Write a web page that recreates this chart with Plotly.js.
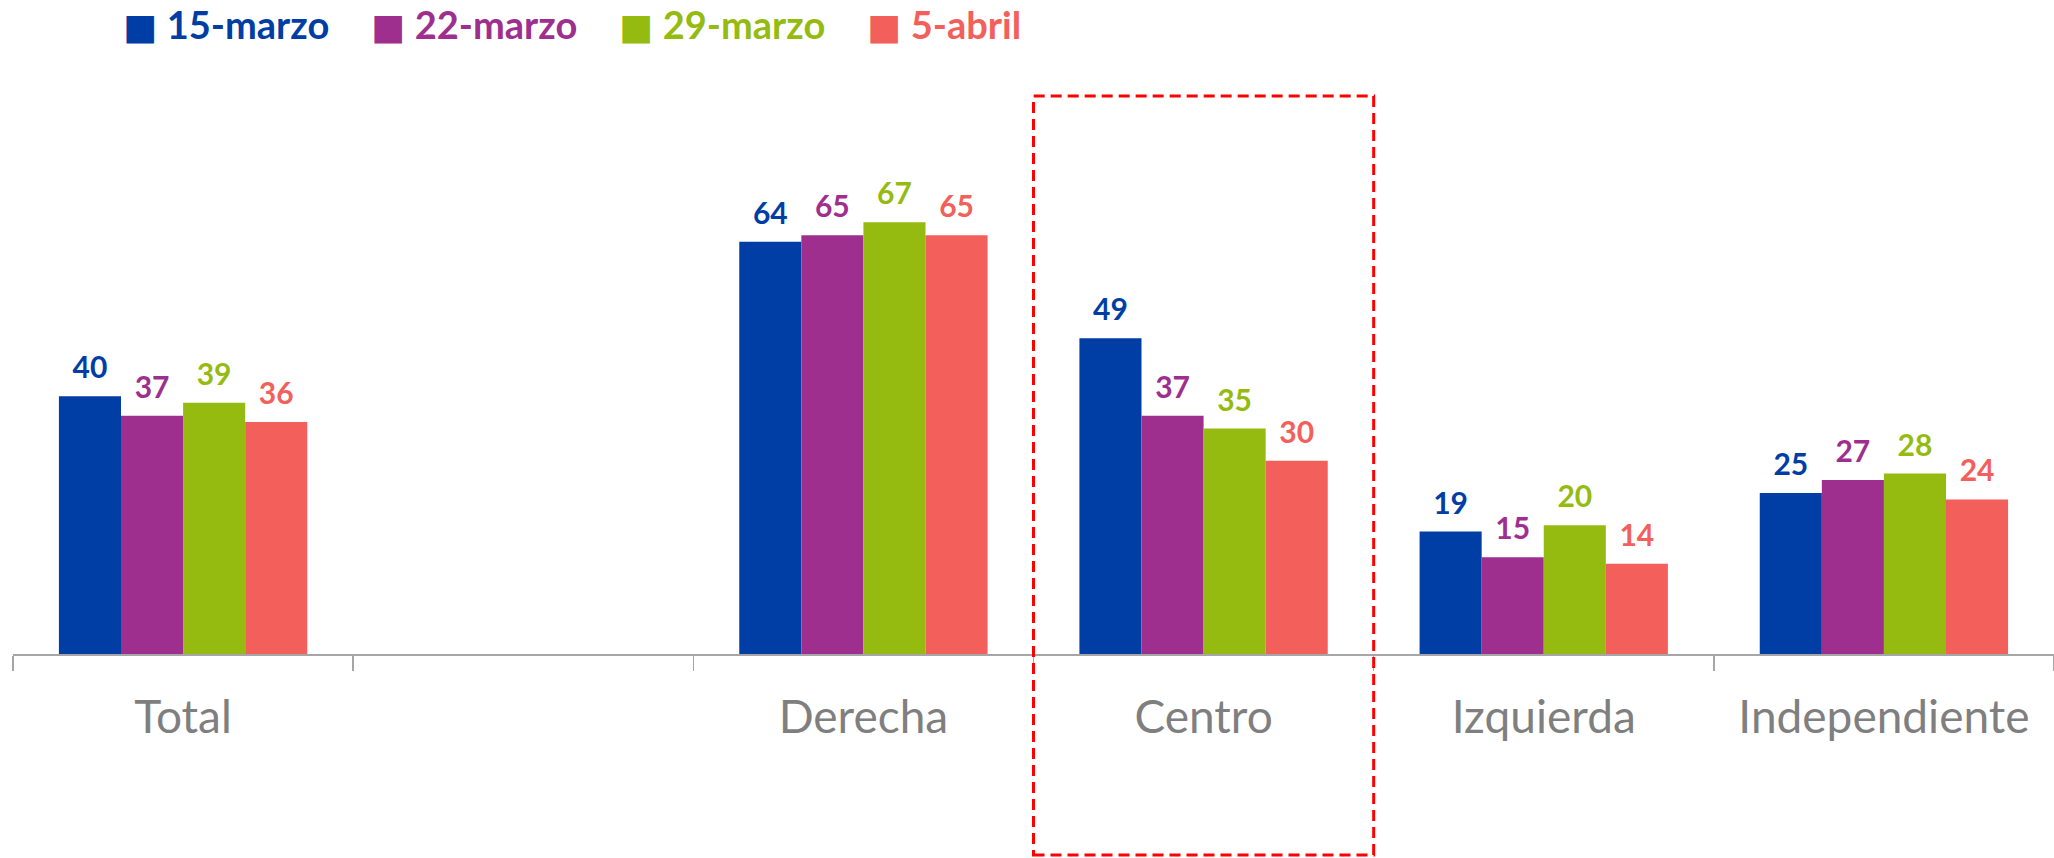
<!DOCTYPE html>
<html>
<head>
<meta charset="utf-8">
<script src="https://cdn.plot.ly/plotly-3.0.1.min.js"></script>
<style>html,body{margin:0;padding:0;background:#fff;}#chart{width:2054px;height:858px;}</style>
</head>
<body>
<div id="chart"></div>
<script>
const categories = ["Total", " ", "Derecha", "Centro", "Izquierda", "Independiente"];
const seriesNames = ["15-marzo", "22-marzo", "29-marzo", "5-abril"];
const marzo15 = [40, null, 64, 49, 19, 25];
const marzo22 = [37, null, 65, 37, 15, 27];
const marzo29 = [39, null, 67, 35, 20, 28];
const abril5  = [36, null, 65, 30, 14, 24];
const colors = ["#003EA6", "#9E2F8F", "#95BB11", "#F3605B"];
const highlightCategory = "Centro";

const series = [marzo15, marzo22, marzo29, abril5];
const traces = [];
series.forEach((vals, i) => {
  traces.push({
    type: "bar",
    x: categories,
    y: vals,
    name: seriesNames[i],
    showlegend: false,
    marker: {color: colors[i], line: {width: 0}},
    texttemplate: '<span style="font-size:30px">%{y}</span><br>\u00a0',
    textposition: "outside",
    textfont: {family: "Lato", size: 10, color: colors[i], weight: "bold"},
    cliponaxis: false,
    hoverinfo: "x+y+name"
  });
});
seriesNames.forEach((n, i) => {
  traces.push({
    type: "scatter",
    mode: "lines",
    x: [null], y: [null],
    line: {width: 0, color: colors[i]},
    name: '<span style="color:' + colors[i] + '"><span style="font-size:36px;font-family:DejaVu Sans">■</span> <b>' + n + '</b></span>',
    showlegend: true,
    hoverinfo: "skip"
  });
});

const ci = categories.indexOf(highlightCategory);
const layout = {
  width: 2054,
  height: 858,
  margin: {l: 13, r: 0, t: 80, b: 204, autoexpand: false},
  paper_bgcolor: "#ffffff",
  plot_bgcolor: "#ffffff",
  barmode: "group",
  bargap: 0.27,
  bargroupgap: 0,
  showlegend: true,
  legend: {
    orientation: "h",
    x: 0.0343, xanchor: "left",
    xref: "paper",
    y: 1.0976, yanchor: "middle",
    yref: "paper",
    font: {family: "Lato", size: 38},
    entrywidth: 203, entrywidthmode: "pixels",
    itemwidth: 30,
    traceorder: "normal"
  },
  xaxis: {
    type: "category",
    range: [-0.5, 5.5],
    showline: true,
    linecolor: "#A6A6A6",
    linewidth: 1.5,
    ticks: "outside",
    tickson: "boundaries",
    ticklen: 15,
    tickwidth: 1.5,
    tickcolor: "#A6A6A6",
    tickfont: {family: "Lato", size: 46, color: "#7F7F7F"},
    ticklabelstandoff: 22,
    showgrid: false,
    zeroline: false,
    fixedrange: true
  },
  yaxis: {
    range: [0, 89.1],
    visible: false,
    showgrid: false,
    zeroline: false,
    fixedrange: true
  },
  shapes: [{
    type: "rect",
    xref: "x", yref: "paper",
    x0: ci - 0.5, x1: ci + 0.5,
    y0: -0.35, y1: 0.972,
    line: {color: "#FF0000", width: 3, dash: "11px,6px"},
    fillcolor: "rgba(0,0,0,0)"
  }]
};

Plotly.newPlot("chart", traces, layout, {displayModeBar: false, staticPlot: true});
</script>
</body>
</html>
